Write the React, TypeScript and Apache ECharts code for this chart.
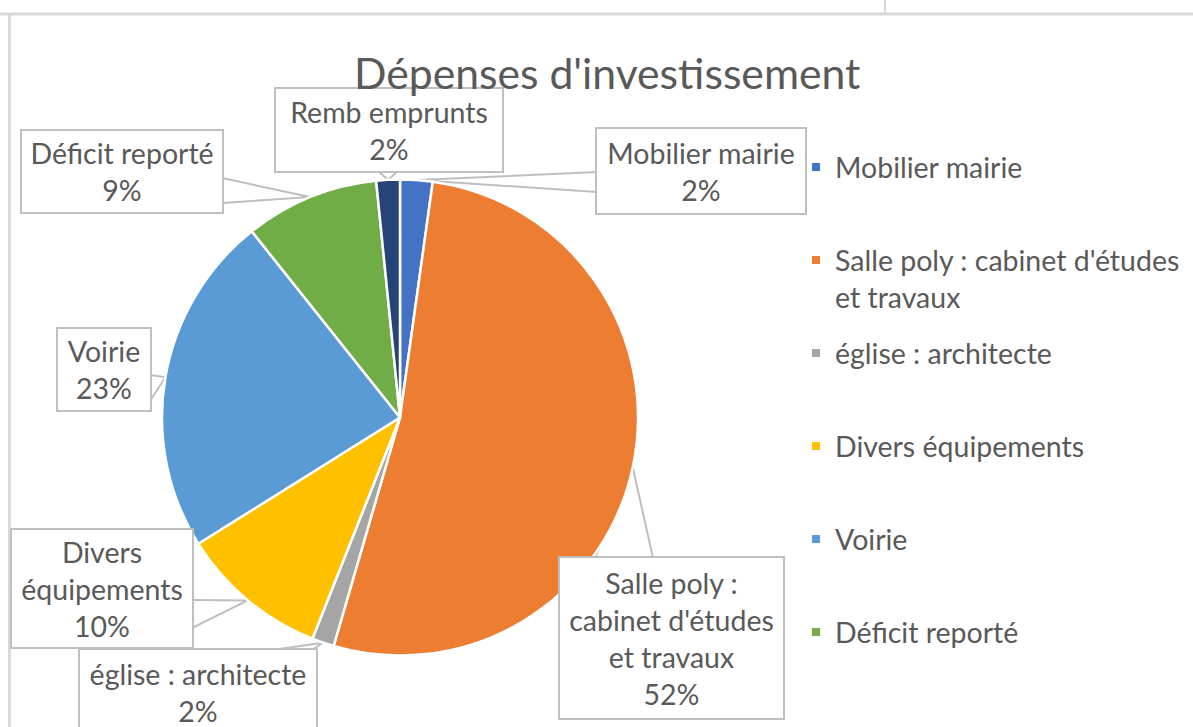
import React, { useEffect, useRef } from 'react';
import * as echarts from 'echarts';

// ---- data ----
const categories: string[] = [
  'Mobilier mairie',
  "Salle poly : cabinet d'études et travaux",
  'église : architecte',
  'Divers équipements',
  'Voirie',
  'Déficit reporté',
  'Remb emprunts',
];
const values: number[] = [2.2, 52.3, 1.5, 10.1, 23.2, 9.1, 1.6];
const colors: string[] = ['#4472C4', '#ED7D31', '#A5A5A5', '#FFC000', '#5B9BD5', '#70AD47', '#264478'];
const calloutNames: string[] = [
  'Mobilier mairie',
  "Salle poly :\ncabinet d'études\net travaux",
  'église : architecte',
  'Divers\néquipements',
  'Voirie',
  'Déficit reporté',
  'Remb emprunts',
];
const legendNames: string[] = categories.slice(0, 6);
const legendLabels: string[] = [
  'Mobilier mairie',
  "\nSalle poly : cabinet d'études\net travaux",
  'église : architecte',
  'Divers équipements',
  'Voirie',
  'Déficit reporté',
];
const titleText = "Dépenses d'investissement";

// ---- layout (callout boxes: x, y, w, h, lines; wedge base points) ----
const boxes = [
  { x: 597, y: 129, w: 208, h: 84, lines: 2, base: [[597, 172], [597, 192]] },
  { x: 560, y: 558, w: 223, h: 160, lines: 4, base: [[595, 558], [653, 558]] },
  { x: 80, y: 650, w: 236, h: 84, lines: 2, base: [[272, 650], [312, 650]] },
  { x: 12, y: 530, w: 180, h: 117, lines: 3, base: [[192, 600], [192, 628]] },
  { x: 58, y: 329, w: 92, h: 81, lines: 2, base: [[150, 375], [150, 401]] },
  { x: 22, y: 131, w: 200, h: 81, lines: 2, base: [[222, 178], [222, 203]] },
  { x: 276, y: 89, w: 226, h: 82, lines: 2, base: [[378, 171], [398, 171]] },
];

const FONT = 'Lato';
const TXT = '#595959';
const LINE_H = 37;
const FS = 28.5;
const GRID = '#BFBFBF';

export default function App() {
  const ref = useRef<HTMLDivElement>(null);
  useEffect(() => {
    if (!ref.current) return;
    const chart = echarts.init(ref.current, null, { renderer: 'svg' });
    const option: any = {
      animation: false,
      backgroundColor: '#ffffff',
      title: {
        text: titleText,
        left: 354,
        top: 47,
        padding: 0,
        textStyle: { fontFamily: FONT, fontSize: 42.7, fontWeight: 'normal', color: TXT, lineHeight: 50 },
      },
      legend: {
        orient: 'vertical',
        left: 810,
        top: 111.5,
        padding: 0,
        itemGap: -18,
        itemWidth: 10,
        itemHeight: 10,
        icon: 'rect',
        selectedMode: false,
        data: legendNames.map((n, i) => ({
          name: n,
          textStyle: { padding: i === 1 ? [0, 0, 0, 9] : [37, 0, 37, 9] },
        })),
        formatter: (name: string) => legendLabels[legendNames.indexOf(name)],
        textStyle: { fontFamily: FONT, fontSize: FS, color: TXT, lineHeight: LINE_H },
      },
      graphic: [
        { type: 'line', shape: { x1: 0, y1: 14, x2: 1193, y2: 14 }, style: { stroke: '#d9d9d9', lineWidth: 3 }, silent: true },
        { type: 'line', shape: { x1: 9.5, y1: 15, x2: 9.5, y2: 727 }, style: { stroke: '#d9d9d9', lineWidth: 3 }, silent: true },
        { type: 'line', shape: { x1: 885, y1: 0, x2: 885, y2: 13 }, style: { stroke: '#d9d9d9', lineWidth: 2 }, silent: true },
      ],
      series: [
        {
          type: 'pie',
          center: [400, 417.5],
          radius: 238,
          startAngle: 90,
          clockwise: true,
          avoidLabelOverlap: false,
          percentPrecision: 2,
          itemStyle: { borderColor: '#ffffff', borderWidth: 2.5 },
          label: {
            show: true,
            position: 'outside',
            formatter: (p: any) => calloutNames[p.dataIndex] + '\n' + Math.round(p.percent) + '%',
            fontFamily: FONT,
            fontSize: FS,
            color: TXT,
            lineHeight: LINE_H,
            align: 'center',
            backgroundColor: '#ffffff',
            borderColor: GRID,
            borderWidth: 2,
          },
          labelLine: { show: true, smooth: false, length: 10, length2: 10, lineStyle: { color: GRID, width: 2 } },
          labelLayout: (params: any) => {
            const b = boxes[params.dataIndex];
            const pts = params.labelLinePoints;
            const tip = pts && pts[0] ? pts[0] : b.base[0];
            return {
              x: b.x + b.w / 2,
              y: b.y + b.h / 2,
              align: 'center',
              verticalAlign: 'middle',
              labelLinePoints: [b.base[0], tip, b.base[1]],
            };
          },
          data: categories.map((c, i) => ({
            name: c,
            value: values[i],
            itemStyle: { color: colors[i] },
            label: {
              width: boxes[i].w,
              padding: [(boxes[i].h - boxes[i].lines * LINE_H) / 2, 0],
            },
          })),
        },
      ],
    };
    chart.setOption(option);
    return () => chart.dispose();
  }, []);
  return (
    <div
      ref={ref}
      style={{ position: 'absolute', left: 0, top: 0, width: 1193, height: 727, background: '#fff' }}
    />
  );
}
